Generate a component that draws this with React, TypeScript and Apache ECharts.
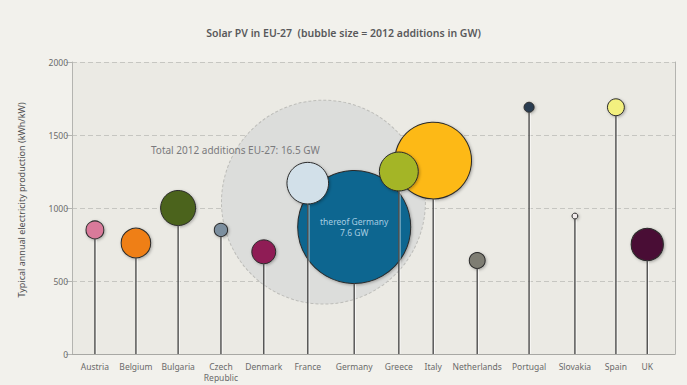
import React, { useEffect, useRef } from "react";
import * as echarts from "echarts";

// ---- data ----
const COUNTRIES = [
  "Austria", "Belgium", "Bulgaria", "Czech\nRepublic", "Denmark", "France", "Germany",
  "Greece", "Italy", "Netherlands", "Portugal", "Slovakia", "Spain", "UK",
];
// category slot positions on the (non-uniform) horizontal scale, 0..100
const SLOTS = [3.8, 10.6, 17.6, 24.7, 31.8, 39.1, 46.8, 54.2, 59.9, 67.2, 75.8, 83.4, 90.2, 95.4];
// typical annual electricity production (kWh/kW)
const PRODUCTION = [850, 760, 1000, 850, 700, 1170, 870, 1250, 1325, 640, 1690, 945, 1690, 750];
// 2012 additions (GW)
const ADDITIONS_GW = [0.19, 0.52, 0.73, 0.105, 0.34, 1.03, 7.6, 0.9, 3.5, 0.15, 0.06, 0.02, 0.17, 0.62];
const COLORS = [
  "#d97a9a", "#ef7f12", "#4b641a", "#7c8f9f", "#8f1c55", "#d2e0e9", "#0b6690",
  "#a4b527", "#fdb913", "#7e7d73", "#2c3e51", "#f2ecec", "#f3f07f", "#4a1134",
];
const TOTAL_LABEL = "Total 2012 additions EU-27";
const TOTAL_GW = 16.5;
const TOTAL_SLOT = 41.7;
const TOTAL_PRODUCTION = 1040;
const Y_TICKS = [0, 500, 1000, 1500, 2000];
const HIGHLIGHT = "Germany";

const TITLE = "Solar PV in EU-27  (bubble size = 2012 additions in GW)";
const Y_NAME = "Typical annual electricity production (kWh/kW)";

const bubbleDiameter = (gw: number) => 41 * Math.sqrt(gw);
const totalDiameter = (gw: number) => 50.2 * Math.sqrt(gw);

export default function App() {
  const ref = useRef<HTMLDivElement>(null);
  useEffect(() => {
    document.body.style.margin = "0";
    const chart = echarts.init(ref.current!, undefined, { renderer: "svg" });

    const points = COUNTRIES.map((name, i) => ({
      name,
      value: [SLOTS[i], PRODUCTION[i], ADDITIONS_GW[i]],
      itemStyle: { color: COLORS[i] },
      label:
        name === HIGHLIGHT
          ? {
              show: true,
              position: "inside",
              formatter: `thereof ${name}\n${ADDITIONS_GW[i]} GW`,
              color: "#a6cde2",
              fontSize: 8.5,
              lineHeight: 11,
              fontFamily: "Noto Sans",
            }
          : { show: false },
    }));
    // draw larger bubbles first so smaller ones sit on top
    const drawOrder = [...points].sort((a, b) => b.value[2] - a.value[2]);

    const labelFor = (v: number) => {
      let best = 0;
      SLOTS.forEach((s, i) => {
        if (Math.abs(s - v) < Math.abs(SLOTS[best] - v)) best = i;
      });
      return COUNTRIES[best];
    };

    chart.setOption({
      animation: false,
      backgroundColor: "#f2f1ec",
      title: {
        text: TITLE,
        left: "center",
        top: 22,
        textStyle: { fontFamily: "Noto Sans", fontSize: 10.5, fontWeight: 600, color: "#59595b" },
      },
      grid: {
        left: 72,
        right: 12,
        top: 62,
        bottom: 31,
        show: true,
        backgroundColor: "#ebeae4",
        borderWidth: 0,
      },
      xAxis: {
        type: "value",
        min: 0,
        max: 100,
        splitLine: { show: false },
        axisLine: { show: true, lineStyle: { color: "#a8a8a4", width: 1 } },
        axisTick: { show: false },
        axisLabel: {
          customValues: SLOTS,
          formatter: (v: number) => labelFor(v),
          color: "#6a6a6a",
          fontSize: 8.5,
          lineHeight: 11,
          margin: 7,
          fontFamily: "Noto Sans",
        },
      },
      yAxis: [
        {
          type: "value",
          min: Y_TICKS[0],
          max: Y_TICKS[Y_TICKS.length - 1],
          interval: 500,
          name: Y_NAME,
          nameLocation: "middle",
          nameGap: 46,
          nameTextStyle: {
            fontFamily: "Noto Sans",
            fontSize: 9,
            color: "#4e4e50",
            padding: [0, 0, 0, 16],
          },
          axisLine: { show: true, lineStyle: { color: "#b4b4b0" } },
          axisTick: { show: true, length: 6, lineStyle: { color: "#b4b4b0" } },
          axisLabel: {
            color: "#6a6a6a",
            fontSize: 8.5,
            margin: 4,
            fontFamily: "Noto Sans",
            formatter: (v: number) => String(v),
          },
          splitLine: { show: true, lineStyle: { color: "#c6c6c1", type: [5, 3] } },
        },
        {
          type: "value",
          position: "right",
          min: 0,
          max: 2000,
          axisLine: { show: true, lineStyle: { color: "#b4b4b0" } },
          axisTick: { show: false },
          axisLabel: { show: false },
          splitLine: { show: false },
        },
      ],
      series: [
        {
          type: "scatter",
          z: 1,
          data: [
            {
              name: TOTAL_LABEL,
              value: [TOTAL_SLOT, TOTAL_PRODUCTION, TOTAL_GW],
              label: {
                show: true,
                position: [-70, 50],
                align: "left",
                verticalAlign: "middle",
                formatter: `${TOTAL_LABEL}: ${TOTAL_GW} GW`,
                color: "#7a7a7d",
                fontSize: 10,
                fontFamily: "Noto Sans",
              },
            },
          ],
          symbolSize: (v: number[]) => totalDiameter(v[2]),
          itemStyle: {
            color: "#dcdddb",
            opacity: 1,
            borderColor: "#bdbdb9",
            borderWidth: 1,
            borderType: [3, 2],
          },
        },
        {
          type: "scatter",
          z: 3,
          data: drawOrder,
          symbolSize: (v: number[]) => bubbleDiameter(v[2]),
          itemStyle: {
            opacity: 1,
            borderColor: "#2b2b2b",
            borderWidth: 1,
            shadowBlur: 3,
            shadowColor: "rgba(0,0,0,0.3)",
            shadowOffsetX: 1,
            shadowOffsetY: 1,
          },
        },
        {
          type: "custom",
          z: 4,
          data: COUNTRIES.map((n, i) => [SLOTS[i], PRODUCTION[i], ADDITIONS_GW[i]]),
          renderItem: (params: any, api: any) => {
            const x = api.value(0);
            const y = api.value(1);
            const r = bubbleDiameter(api.value(2)) / 2;
            const top = api.coord([x, y]);
            const bottom = api.coord([x, 0]);
            return {
              type: "group",
              children: [
                {
                  type: "line",
                  shape: { x1: top[0] + 1.2, y1: top[1] + r + 1, x2: top[0] + 1.2, y2: bottom[1] },
                  style: { stroke: "rgba(255,255,255,0.7)", lineWidth: 1 },
                },
                {
                  type: "line",
                  shape: { x1: top[0], y1: top[1] + r, x2: top[0], y2: bottom[1] },
                  style: { stroke: "#4f4f4f", lineWidth: 1.4 },
                },
              ],
            };
          },
        },
      ],
    });
    return () => chart.dispose();
  }, []);
  return <div ref={ref} style={{ position: "fixed", left: 0, top: 0, width: 687, height: 385 }} />;
}
